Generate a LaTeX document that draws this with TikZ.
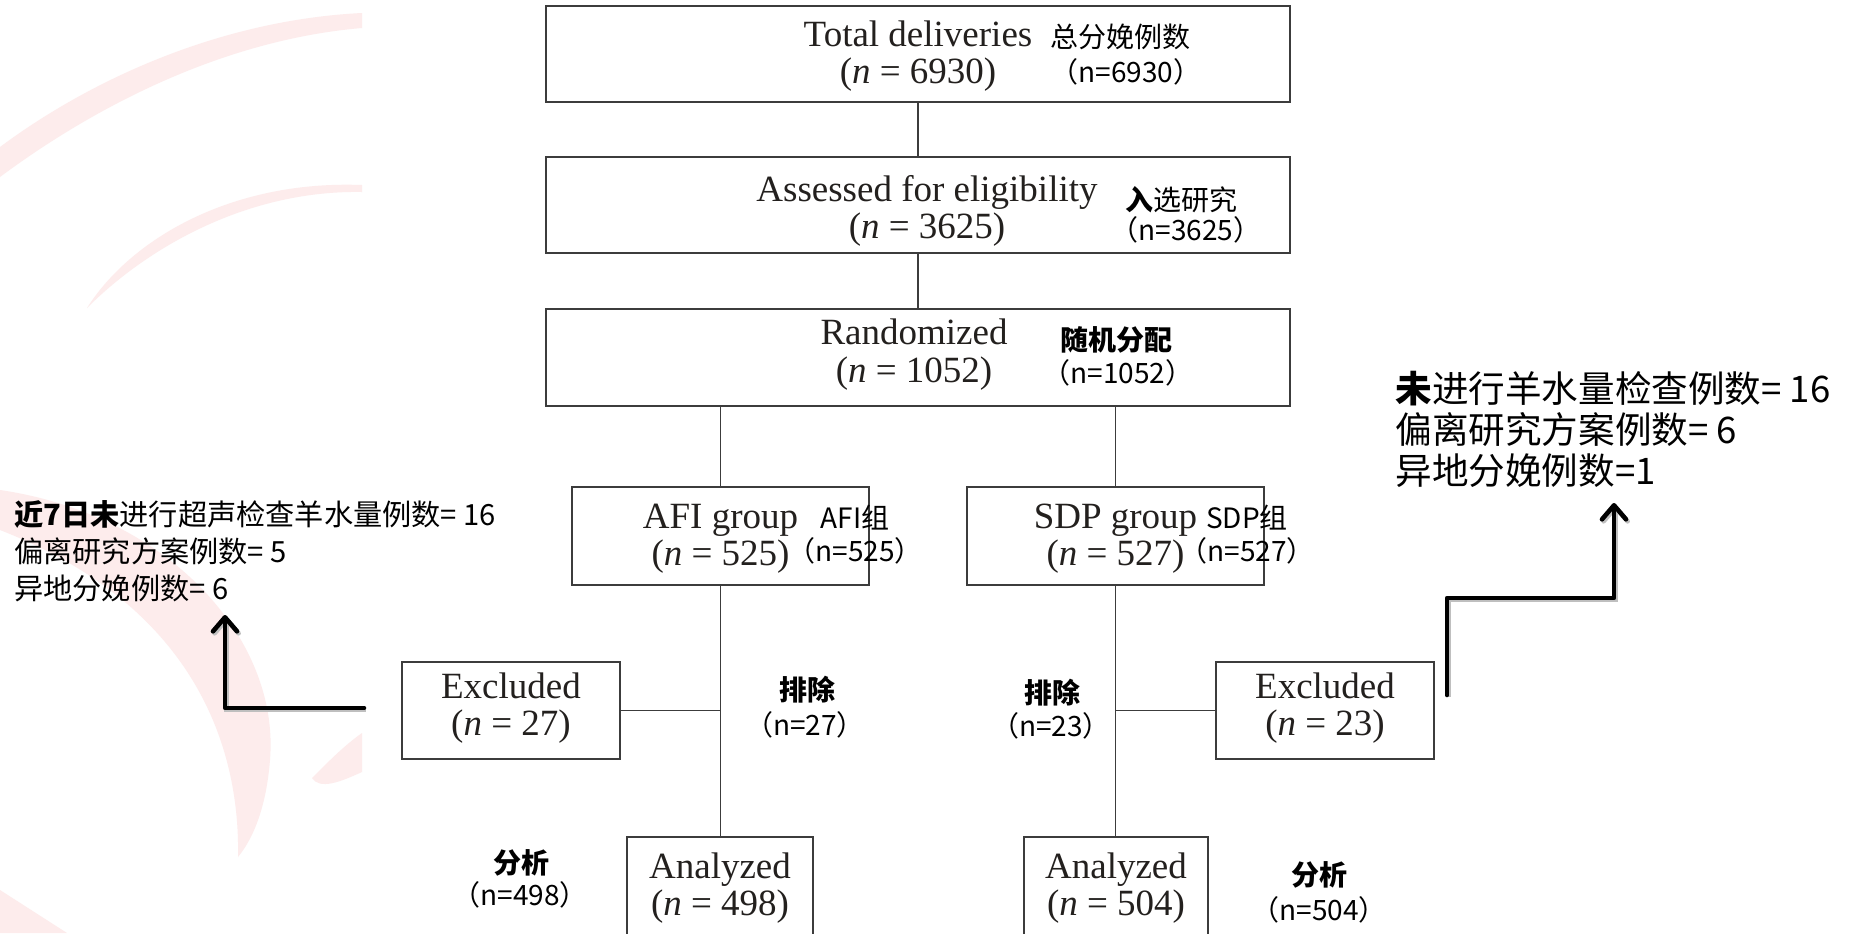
\documentclass[tikz,border=0pt]{standalone}
\usepackage{fontspec}
\setmainfont{Liberation Serif}
\newfontfamily\cjk{Noto Sans CJK SC}
\usetikzlibrary{arrows.meta}
\definecolor{bgpink}{RGB}{253,236,236}
\definecolor{boxline}{RGB}{60,60,60}
\definecolor{entext}{RGB}{35,32,30}
\begin{document}
\begin{tikzpicture}[x=0.5pt,y=-0.5pt,
  box/.style={draw=boxline,line width=1pt,inner sep=0pt,align=center,text=entext,
    text depth=1.5pt,font=\fontsize{18.5}{18.6}\selectfont},
  conn/.style={draw=boxline,line width=0.8pt},
  entxt/.style={inner sep=0pt,align=center,text=entext,font=\fontsize{18.5}{18.6}\selectfont},
  zh/.style={inner sep=0pt,font=\cjk\fontsize{14}{16}\selectfont},
  zhb/.style={inner sep=0pt,font=\cjk\bfseries\fontsize{14}{16}\selectfont},
  note/.style={anchor=west,inner sep=0pt,align=left},
  fat/.style={line width=2.3pt,-{Straight Barb[length=7pt,width=12pt,round]},line cap=round,line join=round,
    preaction={draw=black!25,line width=2.3pt,transform canvas={xshift=0.8pt,yshift=-1pt}}}]
\useasboundingbox (0,0) rectangle (1854,933);
\clip (0,0) rectangle (1854,933);
\fill[white] (0,0) rectangle (1854,933);
% background watermark arcs
\fill[bgpink] (0,147) .. controls (90,80) and (220,20) .. (362,13) -- (362,28)
  .. controls (220,40) and (90,110) .. (0,177) -- cycle;
\fill[bgpink] (87,308) .. controls (130,240) and (230,180) .. (362,185) -- (362,192)
  .. controls (250,190) and (150,245) .. (87,308) -- cycle;
\fill[bgpink] (0,490) .. controls (170,515) and (280,640) .. (270,760)
  .. controls (266,810) and (252,840) .. (238,857)
  .. controls (240,760) and (205,610) .. (0,530) -- cycle;
\fill[bgpink] (312,778) .. controls (330,760) and (345,745) .. (362,733) -- (362,772)
  .. controls (340,782) and (320,790) .. (312,778) -- cycle;
\fill[bgpink] (0,890) -- (67,933) -- (0,933) -- cycle;

% boxes
\node[box,minimum width=372pt,minimum height=48pt] (tot) at (918,54) {Total deliveries\\(\textit{n} = 6930)};
\node[box,minimum width=372pt,minimum height=48pt,
  label={[entxt,xshift=4.5pt,yshift=-3pt]center:Assessed for eligibility\\(\textit{n} = 3625)}] (ass) at (918,205) {};
\node[box,minimum width=372pt,minimum height=48.5pt,
  label={[entxt,xshift=-2pt,yshift=1.5pt]center:Randomized\\(\textit{n} = 1052)}] (rnd) at (918,357.5) {};
\node[box,minimum width=148.5pt,minimum height=49pt] (afi) at (720.5,536) {AFI group\\(\textit{n} = 525)};
\node[box,minimum width=148.5pt,minimum height=49pt] (sdp) at (1115.5,536) {SDP group\\(\textit{n} = 527)};
\node[box,minimum width=109pt,minimum height=48.5pt,
  label={[entxt,yshift=1.2pt]center:Excluded\\(\textit{n} = 27)}] (exl) at (511,710.5) {};
\node[box,minimum width=109pt,minimum height=48.5pt,
  label={[entxt,yshift=1.2pt]center:Excluded\\(\textit{n} = 23)}] (exr) at (1325,710.5) {};
\node[box,minimum width=93pt,minimum height=49pt] (anl) at (720,886) {Analyzed\\(\textit{n} = 498)};
\node[box,minimum width=92pt,minimum height=49pt] (anr) at (1116,886) {Analyzed\\(\textit{n} = 504)};

% connectors
\draw[conn] (tot.south) -- (ass.north);
\draw[conn] (ass.south) -- (rnd.north);
\draw[conn] (afi.north |- rnd.south) -- (afi.north);
\draw[conn] (sdp.north |- rnd.south) -- (sdp.north);
\draw[conn] (afi.south) -- (anl.north -| afi.south);
\draw[conn] (sdp.south) -- (anr.north -| sdp.south);
\draw[conn] (exl.east) -- (exl.east -| afi.south);
\draw[conn] (exr.west) -- (exr.west -| sdp.south);

% Chinese labels
\node[zh] (z1) at (1120,37) {总分娩例数};
\node[zh] (z2) at (1126,72) {（n=6930）};
\node[zh] (z3) at (1181,200) {{\bfseries 入}选研究};
\node[zh] (z4) at (1186,230) {（n=3625）};
\node[zhb] (z5) at (1116,340) {随机分配};
\node[zh] (z6) at (1118,373) {（n=1052）};
\node[zh] (z7) at (855,518) {AFI组};
\node[zh] (z8) at (855,551) {（n=525）};
\node[zh] (z9) at (1247,518) {SDP组};
\node[zh] (z10) at (1247,551) {（n=527）};
\node[zhb] (z11) at (807,690) {排除};
\node[zh] (z12) at (805,725) {（n=27）};
\node[zhb] (z13) at (1052,693) {排除};
\node[zh] (z14) at (1051,726) {（n=23）};
\node[zhb] (z15) at (521,863) {分析};
\node[zh] (z16) at (520,895) {（n=498）};
\node[zhb] (z17) at (1319,875) {分析};
\node[zh] (z18) at (1319,910) {（n=504）};

% annotations
\node[note,font=\cjk\fontsize{14.6}{18.5}\selectfont] (lnote) at (14,551)
  {{\bfseries 近7日未}进行超声检查羊水量例数= 16\\偏离研究方案例数= 5\\异地分娩例数= 6};
\node[note,font=\cjk\fontsize{18.3}{20.5}\selectfont] (rnote) at (1395,429)
  {{\bfseries 未}进行羊水量检查例数= 16\\偏离研究方案例数= 6\\异地分娩例数=1};

% thick arrows
\coordinate (la0) at (364,708);
\coordinate (la1) at (225,615);
\draw[fat] (la0) -| (la1);
\coordinate (ra0) at (1447,695);
\coordinate (ra1) at (1614,598);
\coordinate (ra2) at (1614,503);
\draw[fat] (ra0) |- (ra1) -- (ra2);
\end{tikzpicture}
\end{document}
